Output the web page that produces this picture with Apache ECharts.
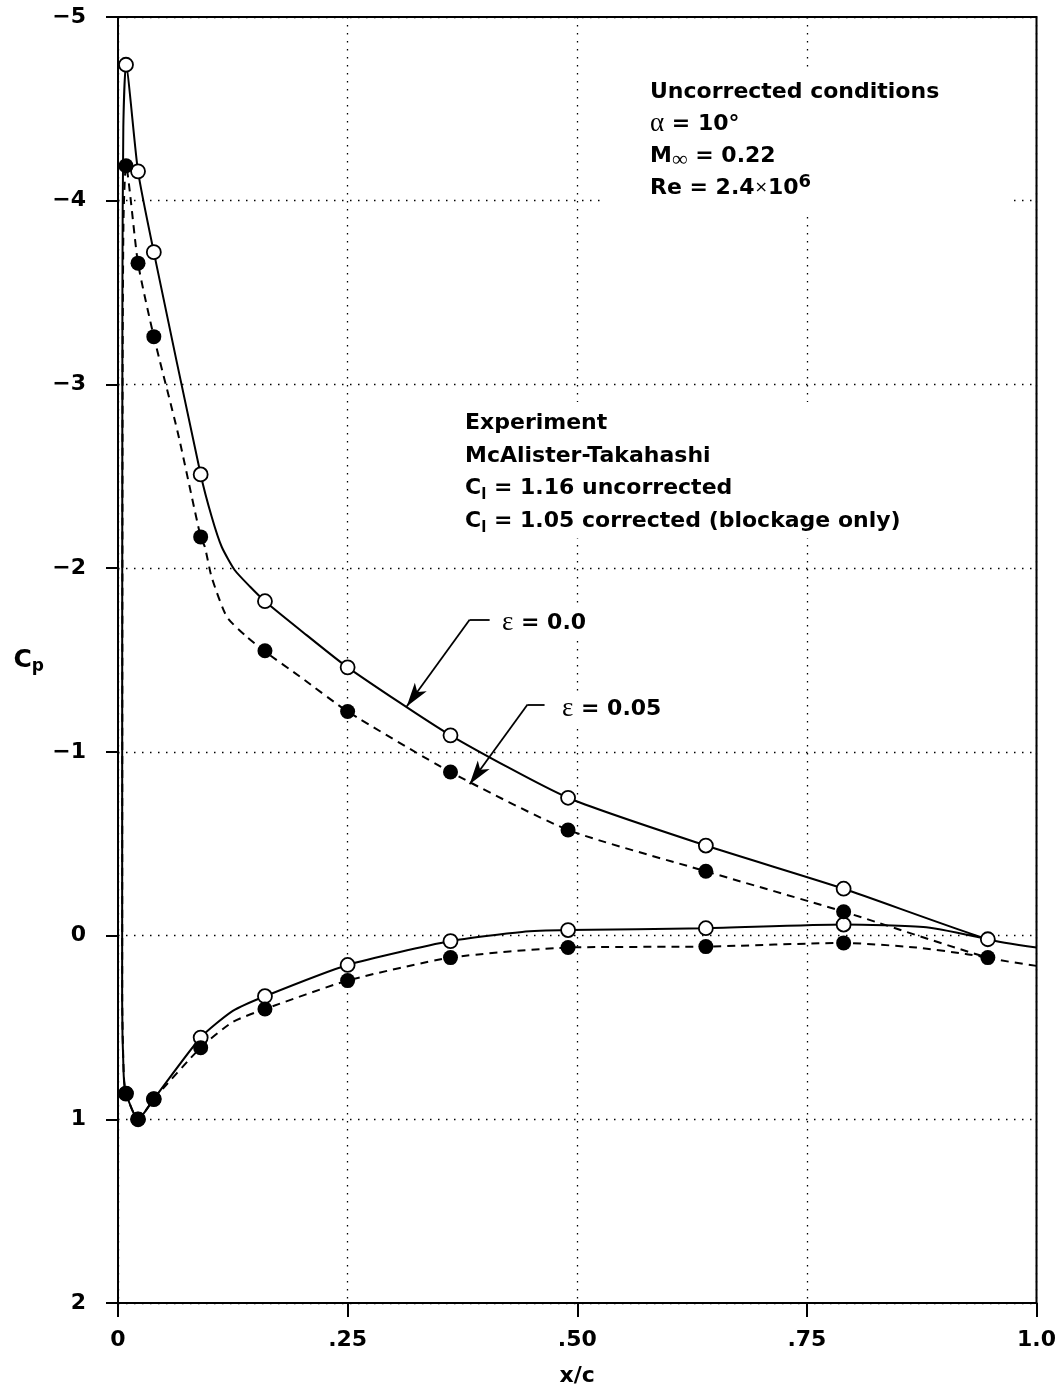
<!DOCTYPE html>
<html><head><meta charset="utf-8">
<script src="https://cdn.jsdelivr.net/npm/echarts@6/dist/echarts.min.js"></script>
<style>html,body{margin:0;padding:0;background:#fff}#chart{width:1059px;height:1392px}</style>
</head><body><div id="chart"></div>
<script>
// ---- tick labels ----
const xTickLabels = ['0', '.25', '.50', '.75', '1.0'];
const yTickLabels = ['\u22125', '\u22124', '\u22123', '\u22122', '\u22121', '0', '1', '2'];

// ---- experimental points (x/c, Cp) ----
const xStations = [0.0087, 0.0218, 0.039, 0.090, 0.16, 0.25, 0.362, 0.49, 0.64, 0.79, 0.947];
const openUpperCp = [-4.74, -4.16, -3.72, -2.51, -1.82, -1.46, -1.09, -0.75, -0.49, -0.255, 0.02];
const openLowerCp = [0.86, 1.0, 0.89, 0.555, 0.33, 0.16, 0.03, -0.03, -0.04, -0.06];
const filledUpperCp = [-4.19, -3.66, -3.26, -2.17, -1.55, -1.22, -0.89, -0.575, -0.35, -0.13, 0.12];
const filledLowerCp = [0.86, 1.0, 0.89, 0.61, 0.40, 0.245, 0.12, 0.065, 0.06, 0.04];

// ---- computed curve, eps = 0.0 (solid) : upper TE -> LE -> lower TE ----
const solidX = [1.0, 0.947, 0.79, 0.64, 0.49, 0.362, 0.25, 0.198, 0.16, 0.1436, 0.127, 0.113, 0.102, 0.090, 0.039, 0.0218, 0.0087, 0.0058, 0.0048, 0.0045, 0.0062, 0.0087, 0.0218, 0.039, 0.090, 0.125, 0.16, 0.25, 0.362, 0.44, 0.49, 0.64, 0.79, 0.88, 0.947];
const solidCp = [0.065, 0.02, -0.255, -0.49, -0.75, -1.09, -1.46, -1.665, -1.82, -1.90, -1.99, -2.115, -2.28, -2.51, -3.72, -4.16, -4.74, -4.40, -3.5, 0.35, 0.76, 0.86, 1.0, 0.89, 0.555, 0.41, 0.33, 0.16, 0.03, -0.02, -0.03, -0.04, -0.06, -0.045, 0.02];

// ---- computed curve, eps = 0.05 (dashed) ----
const dashX = [1.0, 0.947, 0.79, 0.64, 0.49, 0.362, 0.25, 0.198, 0.16, 0.140, 0.1185, 0.102, 0.0946, 0.090, 0.065, 0.039, 0.0218, 0.0087, 0.0060, 0.0050, 0.0046, 0.0063, 0.0087, 0.0218, 0.039, 0.090, 0.125, 0.16, 0.25, 0.362, 0.49, 0.64, 0.79, 0.869, 0.923, 0.947];
const dashCp = [0.165, 0.12, -0.13, -0.35, -0.575, -0.89, -1.22, -1.41, -1.546, -1.627, -1.735, -1.95, -2.115, -2.17, -2.74, -3.26, -3.66, -4.19, -3.9, -3.0, 0.35, 0.76, 0.86, 1.0, 0.89, 0.61, 0.47, 0.40, 0.245, 0.12, 0.065, 0.06, 0.04, 0.065, 0.10, 0.12];

// ---- arrow annotations (data coords) ----
const arrow0 = [[0.4046, -1.719], [0.3828, -1.719], [0.3143, -1.247]];
const arrow5 = [[0.4644, -1.258], [0.4459, -1.258], [0.3828, -0.824]];

const pairs = (xs, ys) => ys.map((y, i) => [xs[i], y]);
const F = '"DejaVu Sans", "Liberation Sans", sans-serif';
const SERIF = '"Liberation Serif", "DejaVu Serif", serif';

const rich = {
  g: { fontFamily: SERIF, fontSize: 27, fontWeight: 'normal', lineHeight: 30, fill: '#000' },
  sub: { fontFamily: F, fontSize: 15, fontWeight: 'bold', lineHeight: 14, verticalAlign: 'bottom', fill: '#000' },
  inf: { fontFamily: SERIF, fontSize: 22, fontWeight: 'normal', lineHeight: 18, verticalAlign: 'bottom', fill: '#000' },
  sup: { fontFamily: F, fontSize: 18, fontWeight: 'bold', lineHeight: 17, verticalAlign: 'top', fill: '#000' },
  x: { fontFamily: F, fontSize: 16, fontWeight: 'normal', lineHeight: 30, fill: '#000' }
};
function txt(x, y, s) {
  return { type: 'text', x: x, y: y, z: 100,
    style: { text: s, fontFamily: F, fontSize: 22, fontWeight: 'bold', fill: '#000', lineHeight: 30,
      align: 'left', verticalAlign: 'middle', rich: rich } };
}
function bg(x, y, w, h) {
  return { type: 'rect', z: 90, shape: { x: x, y: y, width: w, height: h }, style: { fill: '#fff' } };
}
function arrowLines(a) {
  return [
    [{ coord: a[0], symbol: 'none' }, { coord: a[1], symbol: 'none' }],
    [{ coord: a[1], symbol: 'none' }, { coord: a[2], symbol: 'arrow', symbolSize: [11, 24] }]
  ];
}

const chart = echarts.init(document.getElementById('chart'), null, { renderer: 'canvas' });
chart.setOption({
  animation: false,
  backgroundColor: '#fff',
  grid: { left: 118, right: 22, top: 17, bottom: 84, show: true, borderColor: '#000', borderWidth: 2, backgroundColor: 'transparent' },
  xAxis: {
    type: 'value', min: 0, max: 1, interval: 0.25,
    axisLine: { show: true, onZero: false, lineStyle: { color: '#000', width: 2 } },
    axisTick: { show: true, length: 14, lineStyle: { color: '#000', width: 2 } },
    axisLabel: { margin: 26, color: '#000', fontFamily: F, fontWeight: 'bold', fontSize: 22,
      formatter: v => xTickLabels[Math.round(v / 0.25)] },
    splitLine: { show: true, lineStyle: { color: '#000', width: 1.3, type: [1.5, 6.5] } },
    name: 'x/c', nameLocation: 'middle', nameGap: 62,
    nameTextStyle: { color: '#000', fontFamily: F, fontWeight: 'bold', fontSize: 22 }
  },
  yAxis: {
    type: 'value', min: -5, max: 2, interval: 1, inverse: true,
    axisLine: { show: true, onZero: false, lineStyle: { color: '#000', width: 2 } },
    axisTick: { show: true, length: 12, lineStyle: { color: '#000', width: 2 } },
    axisLabel: { margin: 32, color: '#000', fontFamily: F, fontWeight: 'bold', fontSize: 22,
      formatter: v => yTickLabels[Math.round(v + 5)] },
    splitLine: { show: true, lineStyle: { color: '#000', width: 1.3, type: [1.5, 6.5] } },
    name: '{c|C}{p|p}', nameLocation: 'middle', nameRotate: 0, nameGap: 74,
    nameTextStyle: { color: '#000', fontFamily: F, fontWeight: 'bold', fontSize: 25, lineHeight: 30,
      rich: { c: { fontFamily: F, fontWeight: 'bold', fontSize: 25, lineHeight: 30, color: '#000' },
              p: { fontFamily: F, fontWeight: 'bold', fontSize: 17, lineHeight: 17, verticalAlign: 'bottom', color: '#000' } } }
  },
  series: [
    { name: 'eps = 0.0', type: 'line', data: pairs(solidX, solidCp), showSymbol: false, symbol: 'none', smooth: 0.2,
      lineStyle: { color: '#000', width: 2 }, z: 2,
      markLine: { silent: true, animation: false, label: { show: false },
        lineStyle: { color: '#000', width: 1.8, type: 'solid' },
        data: arrowLines(arrow0).concat(arrowLines(arrow5)) } },
    { name: 'eps = 0.05', type: 'line', data: pairs(dashX, dashCp), showSymbol: false, symbol: 'none', smooth: 0.2,
      lineStyle: { color: '#000', width: 2, type: [8, 6] }, z: 2 },
    { name: 'open', type: 'scatter', data: pairs(xStations, openUpperCp).concat(pairs(xStations, openLowerCp)),
      symbol: 'circle', symbolSize: 14, itemStyle: { color: '#fff', borderColor: '#000', borderWidth: 1.8, opacity: 1 }, z: 3 },
    { name: 'filled', type: 'scatter', data: pairs(xStations, filledUpperCp).concat(pairs(xStations, filledLowerCp)),
      symbol: 'circle', symbolSize: 15, itemStyle: { color: '#000', opacity: 1 }, z: 4 }
  ],
  graphic: [
    bg(600, 68, 412, 144),
    txt(650, 92, 'Uncorrected conditions'),
    txt(650, 124, '{g|\u03b1} = 10\u00b0'),
    txt(650, 156, 'M{inf|\u221e} = 0.22'),
    txt(650, 188, 'Re = 2.4{x|\u00d7}10{sup|6}'),
    bg(455, 402, 455, 136),
    txt(465, 423, 'Experiment'),
    txt(465, 456, 'McAlister-Takahashi'),
    txt(465, 488, 'C{sub|l} = 1.16 uncorrected'),
    txt(465, 521, 'C{sub|l} = 1.05 corrected (blockage only)'),
    bg(498, 608, 90, 30),
    txt(502, 623, '{g|\u03b5} = 0.0'),
    bg(558, 694, 100, 30),
    txt(562, 709, '{g|\u03b5} = 0.05')
  ]
});
</script></body></html>
